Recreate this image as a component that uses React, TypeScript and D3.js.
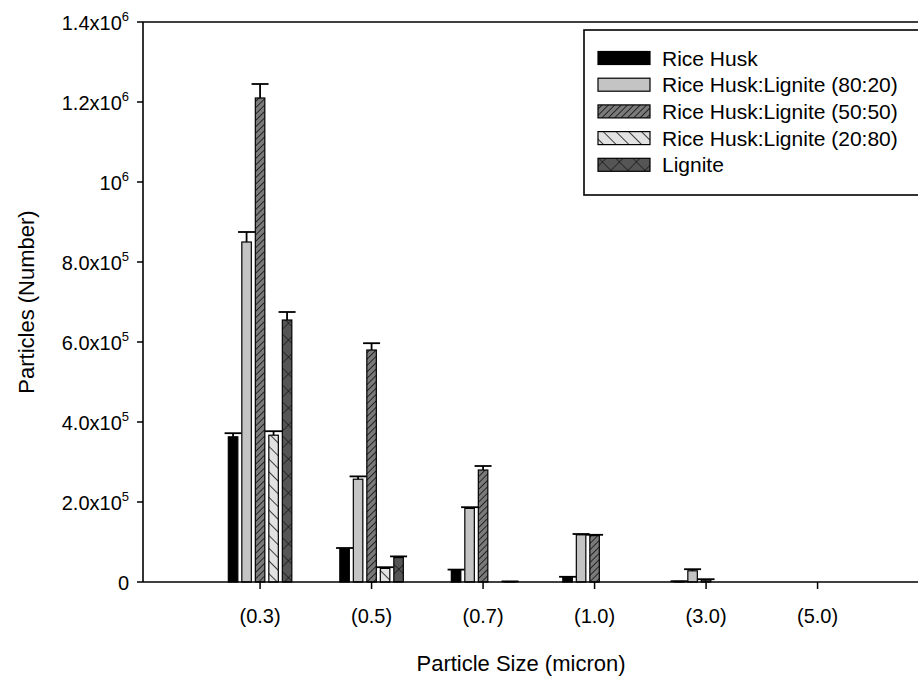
import React from "react";
import * as d3 from "d3";

const categories = ["(0.3)", "(0.5)", "(0.7)", "(1.0)", "(3.0)", "(5.0)"];
const seriesNames = [
  "Rice Husk",
  "Rice Husk:Lignite (80:20)",
  "Rice Husk:Lignite (50:50)",
  "Rice Husk:Lignite (20:80)",
  "Lignite",
];
const riceHusk = [363000, 83000, 30000, 12000, 1500, 0];
const riceHuskErr = [9000, 2000, 1000, 1000, 500, 0];
const rl8020 = [850000, 257000, 184000, 118000, 28000, 0];
const rl8020Err = [25000, 7000, 3000, 2000, 4000, 0];
const rl5050 = [1210000, 580000, 280000, 116000, 5000, 0];
const rl5050Err = [35000, 17000, 10000, 2000, 2000, 0];
const rl2080 = [367000, 34000, 0, 0, 0, 0];
const rl2080Err = [10000, 3000, 0, 0, 0, 0];
const lignite = [655000, 61000, 1000, 0, 0, 0];
const ligniteErr = [20000, 3000, 500, 0, 0, 0];
const yTicks = [0, 200000, 400000, 600000, 800000, 1000000, 1200000, 1400000];

const values = [riceHusk, rl8020, rl5050, rl2080, lignite];
const errors = [riceHuskErr, rl8020Err, rl5050Err, rl2080Err, ligniteErr];
const fills = ["#000000", "#c4c4c4", "url(#p5050)", "url(#p2080)", "url(#plig)"];

const W = 918;
const H = 678;
const FONT = "'Liberation Sans', Arial, sans-serif";

function tickLabel(v: number) {
  if (v === 0) return { m: "0", e: "" };
  const e = Math.floor(Math.log10(v) + 1e-9);
  const m = v / Math.pow(10, e);
  if (Math.abs(m - 1) < 1e-9) return { m: "10", e: String(e) };
  return { m: m.toFixed(1) + "x10", e: String(e) };
}

export default function App() {
  const x = d3.scaleLinear().domain([-0.05, 6.95]).range([143, 923.5]);
  const y = d3.scaleLinear().domain([0, 1400000]).range([582, 22]);
  const sub = d3
    .scaleBand<string>()
    .domain(seriesNames)
    .range([-31.75, 31.75])
    .paddingInner(0.296)
    .paddingOuter(0);
  const bw = sub.bandwidth();
  const capHalf = 8.5;

  return (
    <svg
      width={W}
      height={H}
      style={{ position: "absolute", left: 0, top: 0, background: "#fff" }}
      fontFamily={FONT}
    >
      <defs>
        <pattern id="p5050" patternUnits="userSpaceOnUse" width={4.5} height={4.5} patternTransform="rotate(45)">
          <rect width={4.5} height={4.5} fill="#7a7a7a" />
          <line x1={0} y1={0} x2={0} y2={4.5} stroke="#111" strokeWidth={1.6} />
        </pattern>
        <pattern id="p2080" patternUnits="userSpaceOnUse" width={9} height={9} patternTransform="rotate(-45)">
          <rect width={9} height={9} fill="#e2e2e2" />
          <line x1={0} y1={0} x2={0} y2={9} stroke="#111" strokeWidth={1.6} />
        </pattern>
        <pattern id="plig" patternUnits="userSpaceOnUse" width={12} height={12} patternTransform="rotate(45)">
          <rect width={12} height={12} fill="#555555" />
          <line x1={0} y1={0} x2={0} y2={12} stroke="#111" strokeWidth={1.3} />
          <line x1={0} y1={0} x2={12} y2={0} stroke="#111" strokeWidth={1.3} />
        </pattern>
      </defs>

      {values.map((vals, si) =>
        vals.map((v, ci) => {
          const err = errors[si][ci];
          if (v === 0 && err === 0) return null;
          const cx = x(ci + 1) + (sub(seriesNames[si]) as number) + bw / 2;
          const x0 = cx - bw / 2;
          const yt = y(v);
          const ye = y(v + err);
          return (
            <g key={`${si}-${ci}`}>
              <rect x={x0} y={yt} width={bw} height={Math.max(0, y(0) - yt)} fill={fills[si]} stroke="#000" strokeWidth={1.2} />
              <line x1={cx} x2={cx} y1={yt} y2={ye} stroke="#000" strokeWidth={1.8} />
              <line x1={cx - capHalf} x2={cx + capHalf} y1={ye} y2={ye} stroke="#000" strokeWidth={1.8} />
            </g>
          );
        })
      )}

      <line x1={143} x2={W} y1={y(0)} y2={y(0)} stroke="#000" strokeWidth={1.6} />
      <line x1={143} x2={W} y1={22} y2={22} stroke="#000" strokeWidth={1.6} />
      <line x1={143} x2={143} y1={22} y2={y(0)} stroke="#000" strokeWidth={1.6} />

      {yTicks.map((t) => {
        const lab = tickLabel(t);
        return (
          <g key={t}>
            <line x1={137} x2={143} y1={y(t)} y2={y(t)} stroke="#000" strokeWidth={1.5} />
            <text x={129} y={y(t) + 7.5} textAnchor="end" fontSize={20} fill="#000">
              {lab.m}
              {lab.e && (
                <tspan dy={-9} fontSize={13}>
                  {lab.e}
                </tspan>
              )}
            </text>
          </g>
        );
      })}

      {categories.map((c, i) => (
        <g key={c}>
          <line x1={x(i + 1)} x2={x(i + 1)} y1={y(0)} y2={y(0) + 7} stroke="#000" strokeWidth={1.5} />
          <text x={x(i + 1)} y={623} textAnchor="middle" fontSize={20} fill="#000">
            {c}
          </text>
        </g>
      ))}

      <text x={521} y={671} textAnchor="middle" fontSize={22} fill="#000">
        Particle Size (micron)
      </text>
      <text
        transform={`translate(34, ${(22 + 582) / 2}) rotate(-90)`}
        textAnchor="middle"
        fontSize={22}
        fill="#000"
      >
        Particles (Number)
      </text>

      <rect x={584} y={30} width={W - 584 + 5} height={165} fill="#fff" stroke="#000" strokeWidth={1.6} />
      {seriesNames.map((s, i) => {
        const ly = 58 + i * 26.7;
        return (
          <g key={s}>
            <rect x={598} y={ly - 6.5} width={52} height={13} fill={fills[i]} stroke="#000" strokeWidth={1.2} />
            <text x={662} y={ly + 7.5} fontSize={21} fill="#000">
              {s}
            </text>
          </g>
        );
      })}
    </svg>
  );
}
